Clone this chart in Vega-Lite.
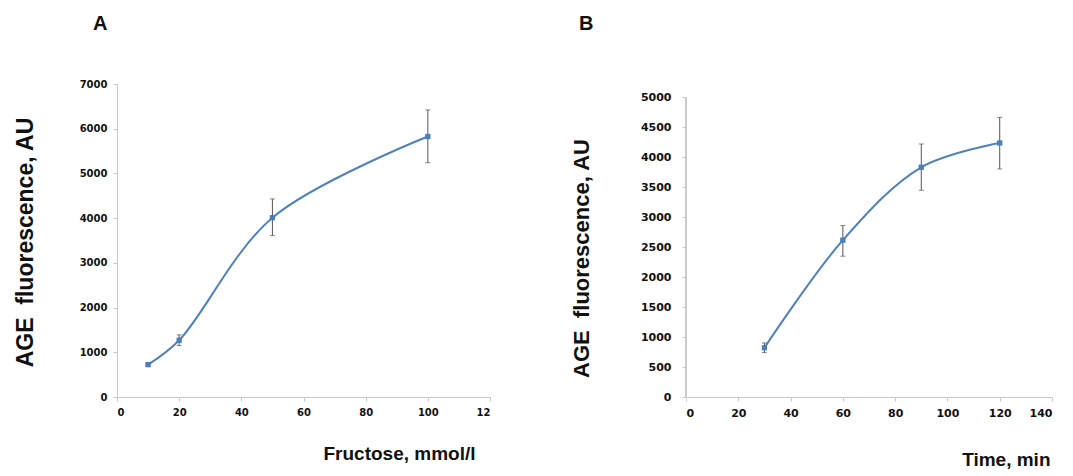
{
  "$schema": "https://vega.github.io/schema/vega-lite/v6.json",
  "background": "white",
  "padding": {"left": 14, "top": 14, "right": 5, "bottom": 5},
  "spacing": 79,
  "config": {
    "view": {"stroke": null},
    "axis": {
      "grid": false,
      "domainColor": "#c8c8c8",
      "tickColor": "#c8c8c8",
      "tickSize": 4,
      "labelFont": "DejaVu Sans",
      "labelFontWeight": "bold",
      "labelFontSize": 10,
      "labelColor": "#111111",
      "labelOverlap": false,
      "format": "d",
      "titleFont": "Liberation Sans",
      "titleFontWeight": "bold",
      "titleColor": "#111111"
    },
    "title": {"font": "Liberation Sans", "fontWeight": "bold", "fontSize": 20, "anchor": "start", "frame": "group", "color": "#111111"}
  },
  "hconcat": [
    {
      "title": {"text": "A", "dx": -24, "offset": 45},
      "width": 373,
      "height": 313,
      "data": {"values": [
        {"x": 10, "y": 724, "lo": 680, "hi": 770},
        {"x": 20, "y": 1270, "lo": 1150, "hi": 1390},
        {"x": 50, "y": 4010, "lo": 3610, "hi": 4430},
        {"x": 100, "y": 5825, "lo": 5240, "hi": 6420}
      ]},
      "encoding": {
        "x": {"field": "x", "type": "quantitative",
          "scale": {"domain": [0, 120], "nice": false},
          "axis": {"values": [0, 20, 40, 60, 80, 100, 120], "labelExpr": "datum.value == 120 ? '12' : datum.label",
            "title": "Fructose, mmol/l", "titleFontSize": 19, "titleX": 358, "titleY": 56, "titleAnchor": "end", "titleAlign": "right", "titleBaseline": "middle", "labelPadding": 6}}
      },
      "layer": [
        {"mark": {"type": "line", "color": "#4f81bd", "strokeWidth": 2, "interpolate": "catmull-rom"},
         "encoding": {"y": {"field": "y", "type": "quantitative",
           "scale": {"domain": [0, 7000], "nice": false},
           "axis": {"values": [0, 1000, 2000, 3000, 4000, 5000, 6000, 7000], "title": "AGE\u00a0 fluorescence, AU", "titleFontSize": 23, "titlePadding": 42, "titleY": 158, "labelPadding": 6}}}},
        {"mark": {"type": "rule", "color": "#555555", "strokeWidth": 1},
         "encoding": {"y": {"field": "lo", "type": "quantitative"}, "y2": {"field": "hi"}}},
        {"mark": {"type": "tick", "color": "#555555", "orient": "horizontal", "size": 5, "thickness": 1},
         "encoding": {"y": {"field": "lo", "type": "quantitative"}}},
        {"mark": {"type": "tick", "color": "#555555", "orient": "horizontal", "size": 5, "thickness": 1},
         "encoding": {"y": {"field": "hi", "type": "quantitative"}}},
        {"mark": {"type": "point", "shape": "square", "filled": true, "color": "#4a7ebb", "size": 28, "opacity": 1},
         "encoding": {"y": {"field": "y", "type": "quantitative"}}}
      ]
    },
    {
      "title": {"text": "B", "dx": -107, "offset": 50},
      "width": 366,
      "height": 313,
      "data": {"values": [
        {"x": 30, "y": 821, "lo": 740, "hi": 900},
        {"x": 60, "y": 2614, "lo": 2347, "hi": 2858},
        {"x": 90, "y": 3829, "lo": 3446, "hi": 4217},
        {"x": 120, "y": 4234, "lo": 3801, "hi": 4661}
      ]},
      "encoding": {
        "x": {"field": "x", "type": "quantitative",
          "scale": {"domain": [0, 140], "nice": false},
          "axis": {"values": [0, 20, 40, 60, 80, 100, 120, 140], "labelFontSize": 11,
            "title": "Time, min", "titleFontSize": 19, "titleX": 364, "titleY": 62, "titleAnchor": "end", "titleAlign": "right", "titleBaseline": "middle", "labelPadding": 6}}
      },
      "layer": [
        {"mark": {"type": "line", "color": "#4f81bd", "strokeWidth": 2, "interpolate": "catmull-rom"},
         "encoding": {"y": {"field": "y", "type": "quantitative",
           "scale": {"domain": [0, 5216.67], "nice": false},
           "axis": {"values": [0, 500, 1000, 1500, 2000, 2500, 3000, 3500, 4000, 4500, 5000], "tickCount": 11, "labelOverlap": false, "domain": false, "labelFontSize": 11, "title": "AGE\u00a0 fluorescence, AU", "titleFontSize": 22, "titlePadding": 47, "titleY": 174, "labelPadding": 11}}}},
        {"mark": {"type": "rule", "color": "#555555", "strokeWidth": 1},
         "encoding": {"y": {"field": "lo", "type": "quantitative", "axis": {"values": [0, 500, 1000, 1500, 2000, 2500, 3000, 3500, 4000, 4500, 5000], "tickCount": 11, "labelOverlap": false, "domain": false, "labelFontSize": 11, "title": "AGE\u00a0 fluorescence, AU", "titleFontSize": 22, "titlePadding": 47, "titleY": 174, "labelPadding": 11}}, "y2": {"field": "hi"}}},
        {"mark": {"type": "tick", "color": "#555555", "orient": "horizontal", "size": 5, "thickness": 1},
         "encoding": {"y": {"field": "lo", "type": "quantitative", "axis": {"values": [0, 500, 1000, 1500, 2000, 2500, 3000, 3500, 4000, 4500, 5000], "tickCount": 11, "labelOverlap": false, "domain": false, "labelFontSize": 11, "title": "AGE\u00a0 fluorescence, AU", "titleFontSize": 22, "titlePadding": 47, "titleY": 174, "labelPadding": 11}}}},
        {"mark": {"type": "tick", "color": "#555555", "orient": "horizontal", "size": 5, "thickness": 1},
         "encoding": {"y": {"field": "hi", "type": "quantitative", "axis": {"values": [0, 500, 1000, 1500, 2000, 2500, 3000, 3500, 4000, 4500, 5000], "tickCount": 11, "labelOverlap": false, "domain": false, "labelFontSize": 11, "title": "AGE\u00a0 fluorescence, AU", "titleFontSize": 22, "titlePadding": 47, "titleY": 174, "labelPadding": 11}}}},
        {"mark": {"type": "point", "shape": "square", "filled": true, "color": "#4a7ebb", "size": 28, "opacity": 1},
         "encoding": {"y": {"field": "y", "type": "quantitative", "axis": {"values": [0, 500, 1000, 1500, 2000, 2500, 3000, 3500, 4000, 4500, 5000], "tickCount": 11, "labelOverlap": false, "domain": false, "labelFontSize": 11, "title": "AGE\u00a0 fluorescence, AU", "titleFontSize": 22, "titlePadding": 47, "titleY": 174, "labelPadding": 11}}}},
        {"mark": {"type": "rule", "color": "#c8c8c8", "strokeWidth": 1},
         "encoding": {"x": {"datum": 0}, "y": {"datum": 0, "axis": {"values": [0, 500, 1000, 1500, 2000, 2500, 3000, 3500, 4000, 4500, 5000], "tickCount": 11, "labelOverlap": false, "domain": false, "labelFontSize": 11, "title": "AGE\u00a0 fluorescence, AU", "titleFontSize": 22, "titlePadding": 47, "titleY": 174, "labelPadding": 11}}, "y2": {"datum": 5000}}}
      ]
    }
  ]
}
